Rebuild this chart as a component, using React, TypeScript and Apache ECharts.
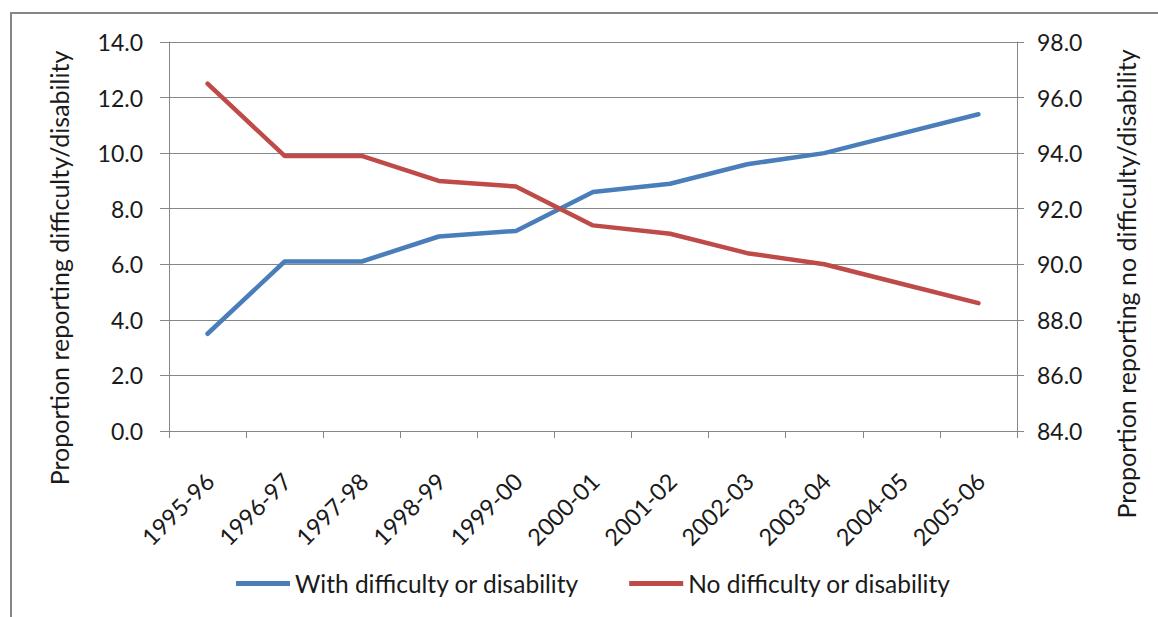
import React, { useEffect, useRef } from "react";
import * as echarts from "echarts";

const categories = [
  "1995-96", "1996-97", "1997-98", "1998-99", "1999-00", "2000-01",
  "2001-02", "2002-03", "2003-04", "2004-05", "2005-06",
];
const withDifficulty = [3.5, 6.1, 6.1, 7.0, 7.2, 8.6, 8.9, 9.6, 10.0, 10.7, 11.4];
const noDifficulty = [96.5, 93.9, 93.9, 93.0, 92.8, 91.4, 91.1, 90.4, 90.0, 89.3, 88.6];
const seriesNames = ["With difficulty or disability", "No difficulty or disability"];
const leftTitle = "Proportion reporting difficulty/disability";
const rightTitle = "Proportion reporting no difficulty/disability";

const FONT = "Lato";
const TEXT = "#1a1a1a";
const AXIS = "#868686";

export default function App() {
  const ref = useRef<HTMLDivElement>(null);
  useEffect(() => {
    if (!ref.current) return;
    const chart = echarts.init(ref.current, undefined, { renderer: "svg" });
    chart.setOption({
      animation: false,
      backgroundColor: "#ffffff",
      textStyle: { fontFamily: FONT, color: TEXT },
      grid: { left: 169, right: 141, top: 42, bottom: 186, containLabel: false },
      legend: {
        left: 231,
        top: 566,
        itemWidth: 54,
        itemHeight: 5,
        itemGap: 50,
        icon: "rect",
        textStyle: { fontFamily: FONT, fontSize: 24.5, color: TEXT },
        data: seriesNames,
      },
      xAxis: {
        type: "category",
        data: categories,
        boundaryGap: true,
        axisLine: { lineStyle: { color: AXIS, width: 1 } },
        axisTick: { show: true, length: 7, lineStyle: { color: AXIS } },
        axisLabel: {
          rotate: 45,
          interval: 0,
          margin: 48,
          padding: [0, -3, 0, 0],
          fontFamily: FONT,
          fontSize: 23.5,
          color: TEXT,
        },
      },
      yAxis: [
        {
          type: "value",
          min: 0,
          max: 14,
          interval: 2,
          position: "left",
          axisLine: { show: true, lineStyle: { color: AXIS } },
          axisTick: { show: true, length: 9, lineStyle: { color: AXIS } },
          splitLine: { show: true, lineStyle: { color: AXIS, width: 1 } },
          axisLabel: {
            margin: 26,
            fontFamily: FONT,
            fontSize: 23,
            color: TEXT,
            formatter: (v: number) => v.toFixed(1),
          },
        },
        {
          type: "value",
          min: 84,
          max: 98,
          interval: 2,
          position: "right",
          axisLine: { show: true, lineStyle: { color: AXIS } },
          axisTick: { show: true, length: 7, lineStyle: { color: AXIS } },
          splitLine: { show: false },
          axisLabel: {
            margin: 20,
            fontFamily: FONT,
            fontSize: 23,
            color: TEXT,
            formatter: (v: number) => v.toFixed(1),
          },
        },
      ],
      series: [
        {
          name: seriesNames[0],
          type: "line",
          yAxisIndex: 0,
          data: withDifficulty,
          showSymbol: false,
          symbol: "none",
          color: "#4A7EBB",
          lineStyle: { color: "#4A7EBB", width: 4.5, cap: "round", join: "round" },
        },
        {
          name: seriesNames[1],
          type: "line",
          yAxisIndex: 1,
          data: noDifficulty,
          showSymbol: false,
          symbol: "none",
          color: "#BE4B48",
          lineStyle: { color: "#BE4B48", width: 4.5, cap: "round", join: "round" },
        },
      ],
      graphic: [
        {
          type: "rect",
          shape: { x: 11, y: 13, width: 1300, height: 800 },
          style: { fill: "none", stroke: AXIS, lineWidth: 2 },
          silent: true,
        },
        {
          type: "text",
          x: 59,
          y: 268,
          rotation: Math.PI / 2,
          style: {
            text: leftTitle,
            fontFamily: FONT,
            fontSize: 25,
            fill: TEXT,
            align: "center",
            verticalAlign: "middle",
          },
        },
        {
          type: "text",
          x: 1126,
          y: 284,
          rotation: Math.PI / 2,
          style: {
            text: rightTitle,
            fontFamily: FONT,
            fontSize: 25,
            fill: TEXT,
            align: "center",
            verticalAlign: "middle",
          },
        },
      ],
    });
    return () => chart.dispose();
  }, []);
  return (
    <div
      ref={ref}
      style={{ position: "absolute", left: 0, top: 0, width: 1158, height: 617 }}
    />
  );
}
